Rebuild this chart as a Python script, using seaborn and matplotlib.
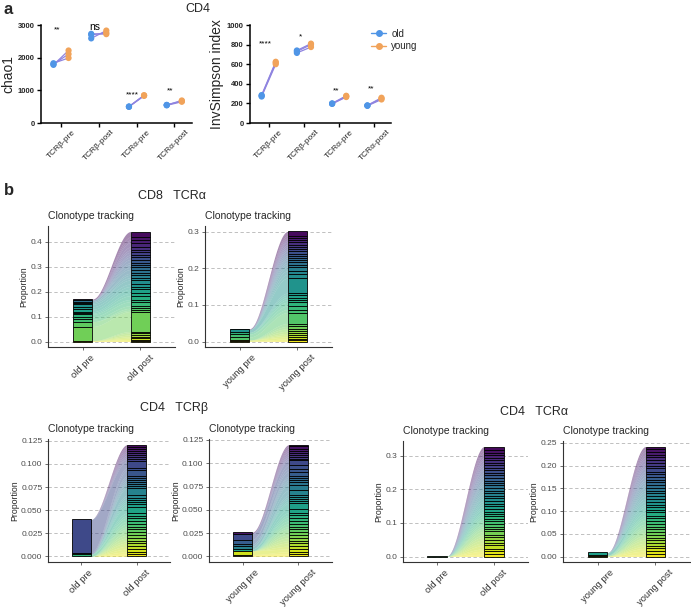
"""
Diversidade (chao1 / InvSimpson) e rastreamento de clonótipos, old vs young.
"""

import matplotlib

matplotlib.use("Agg")

import matplotlib.pyplot as plt
import numpy as np
import pandas as pd
import seaborn as sns
from matplotlib.lines import Line2D

W, H = 691, 607

sns.set_theme(style="white")
plt.rcParams["font.family"] = ["Liberation Sans", "DejaVu Sans"]

# ---------------------------------------------------------------------------
# Dados — painel a
# ---------------------------------------------------------------------------
categorias = ["TCRβ-pre", "TCRβ-post", "TCRα-pre", "TCRα-post"]

chao1_old = [[1780, 1800, 1830], [2590, 2700, 2730], [495, 500, 505], [540, 550, 555]]
chao1_young = [[2220, 2110, 1990], [2830, 2760, 2720], [830, 850, 845], [650, 690, 670]]
chao1_sig = ["**", "ns", "****", "**"]
chao1_sig_y = [2860, 2950, 860, 980]

inv_old = [[270, 278, 285], [715, 730, 740], [195, 198, 200], [175, 178, 180]]
inv_young = [[600, 615, 625], [775, 800, 810], [265, 272, 278], [240, 250, 258]]
inv_sig = ["****", "*", "**", "**"]
inv_sig_y = [810, 875, 330, 350]

# ---------------------------------------------------------------------------
# Dados — painel b (proporção de cada clonótipo, do topo para a base)
# ---------------------------------------------------------------------------
cd8a_old_post = [0.022, 0.012, 0.010, 0.018, 0.012, 0.009, 0.011, 0.008, 0.010, 0.013,
                 0.008, 0.010, 0.009, 0.015, 0.008, 0.010, 0.009, 0.016, 0.010, 0.011,
                 0.016, 0.010, 0.015, 0.009, 0.016, 0.010, 0.008, 0.005, 0.080, 0.006,
                 0.008, 0.007, 0.006, 0.005, 0.004, 0.004]
cd8a_old_pre = [0.004, 0, 0, 0, 0, 0, 0, 0, 0, 0,
                0, 0, 0, 0.006, 0, 0.005, 0, 0.006, 0.010, 0.010,
                0.010, 0.006, 0.004, 0.010, 0.010, 0.010, 0, 0.019, 0.057, 0,
                0, 0, 0, 0, 0, 0.003]

cd8a_young_post = [0.012, 0.006, 0.006, 0.005, 0.007, 0.006, 0.006, 0.005, 0.007, 0.006,
                   0.006, 0.005, 0.007, 0.006, 0.007, 0.010, 0.010, 0.010, 0.041, 0.006,
                   0.006, 0.006, 0.007, 0.010, 0.010, 0.008, 0.030, 0.008, 0.006, 0.007,
                   0.006, 0.005, 0.005, 0.005, 0.004, 0.003]
cd8a_young_pre = [0, 0.002, 0, 0, 0, 0, 0, 0, 0, 0,
                  0, 0, 0, 0, 0, 0, 0, 0, 0.008, 0,
                  0, 0, 0, 0.005, 0, 0.008, 0.008, 0, 0, 0,
                  0, 0, 0, 0.003, 0, 0.001]

cd4b_old_post = [0.0025, 0.002, 0.0025, 0.002, 0.0025, 0.002, 0.002, 0.0025, 0.007, 0.003,
                 0.006, 0.002, 0.0025, 0.002, 0.002, 0.0025, 0.002, 0.008, 0.0025, 0.0025,
                 0.002, 0.0025, 0.0025, 0.007, 0.003, 0.0025, 0.0035, 0.003, 0.003, 0.0025,
                 0.0035, 0.003, 0.003, 0.003, 0.0025, 0.0035, 0.003, 0.003, 0.0025, 0.0025]
cd4b_old_pre = [0, 0, 0, 0, 0, 0, 0, 0, 0.036, 0.0015,
                0, 0, 0, 0, 0, 0, 0, 0, 0, 0,
                0, 0, 0, 0, 0, 0, 0.0025, 0, 0, 0,
                0, 0, 0, 0, 0, 0, 0, 0, 0, 0]

cd4b_young_post = [0.002, 0.0025, 0.002, 0.002, 0.0025, 0.002, 0.002, 0.002, 0.005, 0.004,
                   0.003, 0.005, 0.002, 0.0025, 0.002, 0.0025, 0.006, 0.005, 0.0025, 0.002,
                   0.0025, 0.002, 0.006, 0.004, 0.003, 0.0025, 0.0035, 0.003, 0.003, 0.0025,
                   0.0035, 0.003, 0.003, 0.003, 0.0025, 0.0035, 0.003, 0.003, 0.0025, 0.0025]
cd4b_young_pre = [0, 0.0015, 0, 0, 0, 0, 0, 0, 0.0065, 0,
                  0, 0.005, 0, 0, 0.002, 0, 0, 0.003, 0, 0,
                  0, 0, 0, 0.002, 0, 0, 0, 0, 0, 0,
                  0, 0, 0, 0, 0, 0, 0, 0.004, 0, 0.002]

cd4a_old_post = [0.010, 0.008, 0.007, 0.009, 0.006, 0.008, 0.007, 0.008, 0.006, 0.009,
                 0.007, 0.008, 0.010, 0.007, 0.006, 0.008, 0.009, 0.007, 0.008, 0.006,
                 0.009, 0.007, 0.008, 0.007, 0.009, 0.006, 0.008, 0.007, 0.008, 0.009,
                 0.007, 0.006, 0.008, 0.010, 0.007, 0.008, 0.009, 0.008, 0.010, 0.007,
                 0.009, 0.007]
cd4a_old_pre = [0, 0, 0, 0, 0, 0, 0, 0, 0, 0,
                0, 0, 0, 0, 0, 0, 0, 0, 0, 0,
                0, 0, 0, 0, 0, 0, 0, 0, 0, 0,
                0.0015, 0, 0, 0, 0, 0, 0, 0, 0, 0,
                0, 0]

cd4a_young_post = [0.006, 0.006, 0.007, 0.005, 0.006, 0.007, 0.006, 0.005, 0.007, 0.006,
                   0.006, 0.007, 0.005, 0.006, 0.006, 0.006, 0.005, 0.007, 0.006, 0.006,
                   0.007, 0.005, 0.006, 0.006, 0.007, 0.005, 0.006, 0.008, 0.006, 0.005,
                   0.007, 0.006, 0.006, 0.005, 0.007, 0.006, 0.005, 0.006, 0.007, 0.005]
cd4a_young_pre = [0, 0, 0, 0, 0, 0, 0, 0, 0, 0,
                  0, 0, 0, 0, 0, 0, 0, 0, 0, 0,
                  0, 0, 0.006, 0, 0, 0, 0, 0, 0, 0,
                  0.002, 0, 0, 0, 0, 0, 0, 0, 0.001, 0]

COR_OLD = "#4f95e6"
COR_YOUNG = "#f1a35a"
COR_LIGACAO = "#8f84e0"


def _eixo(fig, x0, y0, x1, y1):
    """Cria um eixo a partir de coordenadas em pixels (origem no topo)."""
    return fig.add_axes([x0 / W, 1 - y1 / H, (x1 - x0) / W, (y1 - y0) / H])


def painel_diversidade(ax, old, young, sig, sig_y, ylabel, ymax, passo):
    linhas = []
    for i, cat in enumerate(categorias):
        for o, y in zip(old[i], young[i]):
            ax.plot([i - 0.2, i + 0.2], [o, y], color=COR_LIGACAO, lw=0.9, zorder=1)
            linhas.append({"x": i - 0.2, "valor": o, "grupo": "old"})
            linhas.append({"x": i + 0.2, "valor": y, "grupo": "young"})
    df = pd.DataFrame(linhas)
    sns.scatterplot(data=df, x="x", y="valor", hue="grupo",
                    palette={"old": COR_OLD, "young": COR_YOUNG},
                    s=20, edgecolor="none", legend=False, ax=ax, zorder=3)
    for i, (txt, yv) in enumerate(zip(sig, sig_y)):
        ax.text(i - 0.1, yv, txt, ha="center", va="center",
                fontsize=7.5 if txt == "ns" else 6, color="black")

    ax.set_xlim(-0.53, 3.47)
    ax.set_ylim(0, ymax)
    ax.set_yticks(np.arange(0, ymax + 1, passo))
    ax.set_xticks(range(len(categorias)))
    ax.set_xticklabels(categorias, rotation=45, ha="center", fontsize=6)
    for lab in ax.get_yticklabels():
        lab.set_fontweight("bold")
    ax.tick_params(axis="y", labelsize=5.5, length=3, width=1, color="black", pad=1.5)
    ax.tick_params(axis="x", length=3, width=1, color="black", pad=1)
    ax.tick_params(left=True, bottom=True)
    ax.set_xlabel("")
    ax.set_ylabel(ylabel, fontsize=10, labelpad=2)
    sns.despine(ax=ax)
    for lado in ("left", "bottom"):
        ax.spines[lado].set_color("black")
        ax.spines[lado].set_linewidth(1.1)


def painel_alluvial(ax, rotulos, pre, post, yticks, fmt):
    pre = np.asarray(pre, dtype=float)
    post = np.asarray(post, dtype=float)
    n = len(post)
    cores = sns.color_palette("viridis", n)
    larg = 0.34

    topo_pre = pre.sum() - np.concatenate([[0], np.cumsum(pre)[:-1]])
    base_pre = topo_pre - pre
    topo_post = post.sum() - np.concatenate([[0], np.cumsum(post)[:-1]])
    base_post = topo_post - post

    t = np.linspace(0, 1, 120)
    s = t * t * (3 - 2 * t)
    xs = larg / 2 + (1 - larg) * t
    for i in range(n):
        lo = base_pre[i] + (base_post[i] - base_pre[i]) * s
        hi = topo_pre[i] + (topo_post[i] - topo_pre[i]) * s
        ax.fill_between(xs, lo, hi, color=cores[i], alpha=0.48, lw=0, zorder=1)

    for x, alt, base in ((0, pre, base_pre), (1, post, base_post)):
        m = alt > 0
        ax.bar(np.full(m.sum(), x), alt[m], bottom=base[m], width=larg,
               color=[c for c, k in zip(cores, m) if k],
               edgecolor="black", linewidth=0.6, zorder=3)

    topo = max(pre.sum(), post.sum())
    ax.set_ylim(-0.05 * topo, 1.05 * topo)
    ax.set_xlim(-0.6, 1.6)
    ax.set_yticks(yticks)
    ax.set_yticklabels([fmt.format(v) for v in yticks])
    ax.set_xticks([0, 1])
    ax.set_xticklabels(rotulos, rotation=45, ha="center", fontsize=6.8, color="#333333")
    ax.tick_params(axis="y", labelsize=6, labelcolor="#4d4d4d", length=2.5,
                   width=0.6, color="#555555", pad=1.5, left=True)
    ax.tick_params(axis="x", length=2.5, width=0.6, color="#555555", pad=2, bottom=True)
    ax.yaxis.grid(True, linestyle=(0, (4, 3)), color="#b5b5b5", lw=0.6)
    ax.xaxis.grid(False)
    ax.set_axisbelow(True)
    ax.set_title("Clonotype tracking", loc="left", fontsize=7.5, pad=5)
    ax.set_ylabel("Proportion", fontsize=6.3, labelpad=1.5)
    sns.despine(ax=ax)
    for lado in ("left", "bottom"):
        ax.spines[lado].set_color("#333333")
        ax.spines[lado].set_linewidth(0.8)


def main():
    fig = plt.figure(figsize=(W / 100, H / 100), dpi=100)

    ax1 = _eixo(fig, 41, 25, 192, 123)
    painel_diversidade(ax1, chao1_old, chao1_young, chao1_sig, chao1_sig_y,
                       "chao1", 3000, 1000)
    ax2 = _eixo(fig, 250, 25, 391, 123)
    painel_diversidade(ax2, inv_old, inv_young, inv_sig, inv_sig_y,
                       "InvSimpson index", 1000, 200)

    alcas = [Line2D([0], [0], color=c, marker="o", ms=4, lw=1) for c in (COR_OLD, COR_YOUNG)]
    fig.legend(alcas, ["old", "young"], loc="upper left",
               bbox_to_anchor=(362 / W, 1 - 20 / H), frameon=False, fontsize=7,
               handlelength=1.6, labelspacing=0.25, handletextpad=0.5)

    fig.text(4 / W, 1 - 9 / H, "a", fontsize=12, fontweight="bold", va="center")
    fig.text(198 / W, 1 - 9 / H, "CD4", fontsize=9, ha="center", va="center")
    fig.text(4 / W, 1 - 191 / H, "b", fontsize=12, fontweight="bold", va="center")
    fig.text(172 / W, 1 - 196 / H, "CD8   TCRα", fontsize=9, ha="center", va="center")
    fig.text(174 / W, 1 - 408 / H, "CD4   TCRβ", fontsize=9, ha="center", va="center")
    fig.text(534 / W, 1 - 412 / H, "CD4   TCRα", fontsize=9, ha="center", va="center")

    t1 = [0.0, 0.1, 0.2, 0.3, 0.4]
    t2 = [0.0, 0.1, 0.2, 0.3]
    t3 = [0.0, 0.025, 0.05, 0.075, 0.1, 0.125]
    t4 = [0.0, 0.05, 0.10, 0.15, 0.20, 0.25]

    painel_alluvial(_eixo(fig, 48, 226, 175, 347), ["old pre", "old post"],
                    cd8a_old_pre, cd8a_old_post, t1, "{:.1f}")
    painel_alluvial(_eixo(fig, 205, 226, 332, 347), ["young pre", "young post"],
                    cd8a_young_pre, cd8a_young_post, t2, "{:.1f}")
    painel_alluvial(_eixo(fig, 48, 439, 170, 562), ["old pre", "old post"],
                    cd4b_old_pre, cd4b_old_post, t3, "{:.3f}")
    painel_alluvial(_eixo(fig, 209, 439, 332, 562), ["young pre", "young post"],
                    cd4b_young_pre, cd4b_young_post, t3, "{:.3f}")
    painel_alluvial(_eixo(fig, 403, 441, 528, 562), ["old pre", "old post"],
                    cd4a_old_pre, cd4a_old_post, t2, "{:.1f}")
    painel_alluvial(_eixo(fig, 563, 441, 690, 562), ["young pre", "young post"],
                    cd4a_young_pre, cd4a_young_post, t4, "{:.2f}")

    fig.savefig("out.png", dpi=100)
    plt.close(fig)


if __name__ == "__main__":
    main()
